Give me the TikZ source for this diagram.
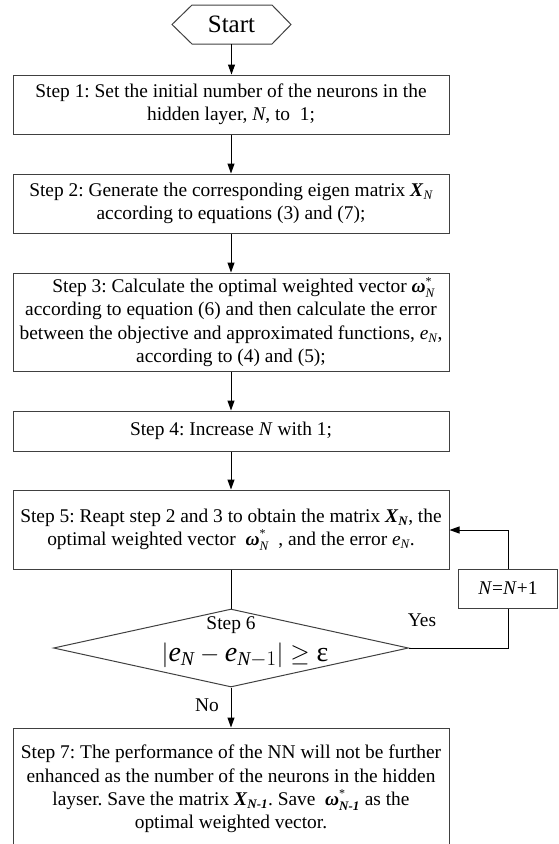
\documentclass[tikz,border=0pt]{standalone}
\usepackage{fontspec}
\setmainfont{Liberation Serif}
\usetikzlibrary{arrows.meta,shapes.geometric}
\frenchspacing
\newcommand{\subfs}{\fontsize{13}{13}\selectfont}
\newcommand{\vecw}[1]{\ensuremath{\mbox{\bfseries\itshape ω}^{\mbox{\fontsize{12}{12}\selectfont *}}_{\mbox{\subfs #1}}}}
\begin{document}
\begin{tikzpicture}[x=1pt,y=-1pt,
  font=\fontsize{19.4}{23.3}\selectfont,
  stepbox/.style={draw=black!75, line width=1pt, minimum width=436pt, align=center, inner sep=0pt},
  conn/.style={line width=1pt, draw=black},
  arr/.style={conn, -{Triangle[length=10pt,width=7pt]}},
  lbl/.style={inner sep=0pt}]
\useasboundingbox (0,0) rectangle (558,844);

% Start
\node[lbl, minimum width=119pt, minimum height=39pt, font=\fontsize{25}{28}\selectfont] (st) at (231.5,24.5) {Start};
\draw[draw=black!75, line width=1pt] (172,24.5) -- (192,5) -- (272,5) -- (291,24.5) -- (272,44) -- (192,44) -- cycle;

% Steps
\node[stepbox, minimum height=59pt] (s1) at (231,104.5)
  {Step 1: Set the initial number of the neurons in the\\hidden layer, \textit{N}, to\ \ 1;};
\node[stepbox, minimum height=59pt] (s2) at (231,203.5)
  {Step 2: Generate the corresponding eigen matrix \textbf{\textit{X}}$_{\mbox{\subfs\itshape N}}$\\according to equations (3) and (7);};
\node[stepbox, minimum height=98pt] (s3) at (231,322)
  {\hspace*{1.3em}Step 3: Calculate the optimal weighted vector \vecw{\itshape N}\\according to equation (6) and then calculate the error\\between the objective and approximated functions, \textit{e}$_{\mbox{\subfs\itshape N}}$,\\according to (4) and (5);};
\node[stepbox, minimum height=40pt] (s4) at (231,431)
  {Step 4: Increase \textit{N} with 1;};
\node[stepbox, minimum height=79pt] (s5) at (231,529.5)
  {Step 5: Reapt step 2 and 3 to obtain the matrix \textbf{\textit{X}}$_{\mbox{\subfs\bfseries\itshape N}}$, the\\optimal weighted vector \ \vecw{\itshape N}\ \ , and the error \textit{e}$_{\mbox{\subfs\itshape N}}$.};
\node[stepbox, minimum height=122pt] (s7) at (231,789)
  {Step 7: The performance of the NN will not be further\\enhanced as the number of the neurons in the hidden\\layser. Save the matrix \textbf{\textit{X}}$_{\mbox{\subfs\bfseries\itshape N-1}}$. Save\ \ \vecw{\bfseries\itshape N-1} as the\\optimal weighted vector.};

% Decision
\node[diamond, draw=black!75, line width=1pt, minimum width=355pt, minimum height=78pt, inner sep=0pt] (d6) at (231,648) {};
\node[lbl] (d6a) at (231,625) {Step 6};
\node[lbl, font=\fontsize{28}{30}\selectfont] (d6b) at (245,655)
  {$\left|\vphantom{\Big|}\mathit{e}_{\mathit{N}}-\mathit{e}_{\mathit{N}-1}\right|\geq\mbox{ε}$};

% Increment box
\node[draw=black!75, line width=1pt, minimum width=99pt, minimum height=39pt, inner sep=0pt] (nb) at (508,588.5) {\textit{N}=\textit{N}+1};

% Labels
\node[lbl] (yes) at (422,620) {Yes};
\node[lbl] (no) at (207,705) {No};

% Connectors
\coordinate (c1) at (508,648);
\coordinate (c2) at (508,530);
\draw[arr] (st.south) -- (st.south |- s1.north);
\draw[arr] (s1.south) -- (s2.north);
\draw[arr] (s2.south) -- (s3.north);
\draw[arr] (s3.south) -- (s4.north);
\draw[arr] (s4.south) -- (s5.north);
\draw[conn] (s5.south) -- (d6.north);
\draw[arr] (d6.south) -- (s7.north);
\draw[conn] (d6.east) -- (c1) -- (nb.south);
\draw[arr] (nb.north) -- (c2) -- (c2 -| s5.east);
\end{tikzpicture}
\end{document}
